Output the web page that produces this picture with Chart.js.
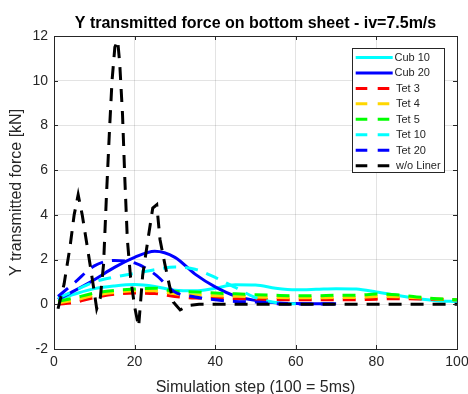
<!DOCTYPE html>
<html lang="en">
<head>
    <meta charset="UTF-8">
    <title>Y transmitted force on bottom sheet</title>
    <script src="https://cdn.jsdelivr.net/npm/chart.js@4.4.1/dist/chart.umd.min.js"></script>
    <style>
        body { margin: 0; background: #fff; }
        #forceChart { display: block; }
    </style>
</head>
<body>
    <canvas id="forceChart" width="468" height="394"></canvas>

    <script>
        // Simulation steps used by the liner curves
        const steps = [1, 5, 10, 15, 20, 25, 30, 35, 40, 45, 50, 55, 60, 65, 70, 75, 80, 85, 90, 95, 100];

        // Y transmitted force [kN]
        const cub10 = [0.22, 0.45, 0.70, 0.82, 0.88, 0.80, 0.63, 0.60, 0.72, 0.87, 0.86, 0.72, 0.65, 0.67, 0.70, 0.68, 0.55, 0.40, 0.26, 0.16, 0.12];
        const cub20 = [0.22, 0.60, 1.10, 1.65, 2.10, 2.37, 2.10, 1.35, 0.78, 0.37, 0.17, 0.07, 0.03, 0.02, 0.02];
        const tet3 = [0.00, 0.08, 0.30, 0.45, 0.50, 0.48, 0.35, 0.28, 0.27, 0.25, 0.23, 0.21, 0.20, 0.20, 0.20, 0.20, 0.23, 0.25, 0.24, 0.22, 0.20];
        const tet4 = [0.06, 0.18, 0.40, 0.53, 0.60, 0.60, 0.47, 0.42, 0.38, 0.36, 0.33, 0.30, 0.29, 0.29, 0.30, 0.30, 0.35, 0.34, 0.29, 0.24, 0.20];
        const tet5 = [0.13, 0.28, 0.50, 0.62, 0.68, 0.72, 0.58, 0.55, 0.50, 0.47, 0.43, 0.40, 0.38, 0.38, 0.40, 0.40, 0.46, 0.43, 0.33, 0.25, 0.20];
        const tet10 = [0.28, 0.60, 1.00, 1.22, 1.38, 1.55, 1.67, 1.57, 1.20, 0.75, 0.30, 0.08, 0.02];
        const tet20 = [0.35, 0.95, 1.72, 1.96, 1.85, 1.35, 0.55, 0.33, 0.20, 0.13, 0.10, 0.03, 0.01, 0.01, 0.01];

        // Without liner: finer sampling around the impact peaks
        const noLinerSteps = [1, 2.5, 4, 5, 6, 7, 8.5, 9.7, 10.6, 11.5, 12.3, 13, 13.8, 14.4, 15.1, 15.8, 16.3, 17, 17.6, 18.2, 19, 20, 21, 22, 23.4, 24.5, 25.5, 26.3, 27.5, 28.7, 29.6, 31.3, 33.5, 36, 40, 50, 60, 70, 80, 90, 100];
        const noLiner = [-0.2, 0.9, 2.6, 4.0, 4.9, 4.0, 2.3, 0.9, -0.2, 0.3, 1.8, 4.8, 7.9, 10.0, 11.5, 11.8, 10.8, 8.5, 5.5, 2.9, 1.2, -0.1, -1.0, 1.3, 3.0, 4.3, 4.45, 2.9, 1.8, 0.8, 0.1, -0.25, -0.05, 0, 0, 0, 0, 0, 0, 0, 0];

        const seriesLabels = ['Cub 10', 'Cub 20', 'Tet 3', 'Tet 4', 'Tet 5', 'Tet 10', 'Tet 20', 'w/o Liner'];
        const seriesColors = ['#00ffff', '#0000ff', '#ff0000', '#ffd700', '#00ff00', '#00ffff', '#0000ff', '#000000'];

        const FONT = '"Liberation Sans", Arial, Helvetica, sans-serif';
        const AXIS_COLOR = '#262626';
        const DASH = [13, 9];

        const toPoints = (xs, ys) => ys.map((y, i) => ({ x: xs[i], y: y }));

        const seriesData = [
            toPoints(steps, cub10),
            toPoints(steps, cub20),
            toPoints(steps, tet3),
            toPoints(steps, tet4),
            toPoints(steps, tet5),
            toPoints(steps, tet10),
            toPoints(steps, tet20),
            toPoints(noLinerSteps, noLiner)
        ];

        const datasets = seriesLabels.map((label, i) => {
            const solid = label.startsWith('Cub');
            const isNoLiner = i === seriesLabels.length - 1;
            return {
                label: label,
                data: seriesData[i],
                borderColor: seriesColors[i],
                borderWidth: 3,
                borderDash: solid ? [] : DASH,
                borderCapStyle: 'butt',
                pointRadius: 0,
                fill: false,
                tension: isNoLiner ? 0 : 0.4,
                cubicInterpolationMode: isNoLiner ? 'default' : 'monotone',
                order: seriesLabels.length - i
            };
        });

        // Title, axis labels, boxed axes with inward ticks and the boxed legend
        const matlabFrame = {
            id: 'matlabFrame',
            afterDatasetsDraw(chart) {
                const { ctx, chartArea: a, scales } = chart;
                ctx.save();
                ctx.strokeStyle = AXIS_COLOR;
                ctx.lineWidth = 1;
                ctx.beginPath();
                scales.x.ticks.forEach(t => {
                    const px = Math.round(scales.x.getPixelForValue(t.value)) + 0.5;
                    ctx.moveTo(px, a.bottom); ctx.lineTo(px, a.bottom - 4);
                    ctx.moveTo(px, a.top); ctx.lineTo(px, a.top + 4);
                });
                scales.y.ticks.forEach(t => {
                    const py = Math.round(scales.y.getPixelForValue(t.value)) + 0.5;
                    ctx.moveTo(a.left, py); ctx.lineTo(a.left + 4, py);
                    ctx.moveTo(a.right, py); ctx.lineTo(a.right - 4, py);
                });
                ctx.stroke();
                ctx.strokeRect(Math.round(a.left) + 0.5, Math.round(a.top) + 0.5,
                    Math.round(a.right - a.left), Math.round(a.bottom - a.top));
                ctx.restore();
            },
            afterDraw(chart) {
                const { ctx, chartArea: a } = chart;
                const cx = (a.left + a.right) / 2;
                ctx.save();

                ctx.fillStyle = '#000';
                ctx.font = 'bold 16px ' + FONT;
                ctx.textAlign = 'center';
                ctx.textBaseline = 'middle';
                ctx.fillText('Y transmitted force on bottom sheet - iv=7.5m/s', cx, 24);

                ctx.fillStyle = AXIS_COLOR;
                ctx.font = '16px ' + FONT;
                ctx.fillText('Simulation step (100 = 5ms)', cx, 388);

                ctx.save();
                ctx.translate(17, (a.top + a.bottom) / 2);
                ctx.rotate(-Math.PI / 2);
                ctx.fillText('Y transmitted force [kN]', 0, 0);
                ctx.restore();

                // legend
                const box = { x: 352.5, y: 48.5, w: 92, h: 124 };
                ctx.fillStyle = '#fff';
                ctx.fillRect(box.x, box.y, box.w, box.h);
                ctx.strokeStyle = AXIS_COLOR;
                ctx.lineWidth = 1;
                ctx.strokeRect(box.x, box.y, box.w, box.h);

                ctx.font = '11px ' + FONT;
                ctx.textAlign = 'left';
                ctx.textBaseline = 'middle';
                chart.data.datasets.forEach((ds, i) => {
                    const y = 57.5 + i * 15.45;
                    const solid = ds.borderDash.length === 0;
                    ctx.strokeStyle = ds.borderColor;
                    ctx.lineWidth = 3;
                    ctx.lineCap = 'butt';
                    ctx.setLineDash(solid ? [] : [11.6, 10.4]);
                    ctx.beginPath();
                    ctx.moveTo(355.7, y);
                    ctx.lineTo(solid ? 392.7 : 389.3, y);
                    ctx.stroke();
                    ctx.setLineDash([]);
                    ctx.fillStyle = AXIS_COLOR;
                    ctx.fillText(ds.label, solid ? 394.5 : 396, y + 0.5);
                });
                ctx.restore();
            }
        };

        new Chart('forceChart', {
            type: 'line',
            data: { datasets: datasets },
            plugins: [matlabFrame],
            options: {
                responsive: false,
                animation: false,
                devicePixelRatio: 1,
                layout: { padding: { top: 36, right: 0, left: 0, bottom: 0 } },
                plugins: {
                    legend: { display: false },
                    title: { display: false },
                    tooltip: { enabled: false }
                },
                scales: {
                    x: {
                        type: 'linear',
                        min: 0,
                        max: 100,
                        ticks: { stepSize: 20, color: AXIS_COLOR, font: { family: FONT, size: 14 }, padding: 5, maxRotation: 0 },
                        grid: { color: 'rgba(0,0,0,0.11)', drawTicks: false },
                        border: { display: false },
                        afterFit(scale) {
                            scale.height = 45;
                            scale.paddingLeft = 0;
                            scale.paddingRight = 11;
                        }
                    },
                    y: {
                        min: -2,
                        max: 12,
                        ticks: { stepSize: 2, color: AXIS_COLOR, font: { family: FONT, size: 14 }, padding: 6 },
                        grid: { color: 'rgba(0,0,0,0.11)', drawTicks: false },
                        border: { display: false },
                        afterFit(scale) { scale.width = 54; }
                    }
                }
            }
        });
    </script>
</body>
</html>
